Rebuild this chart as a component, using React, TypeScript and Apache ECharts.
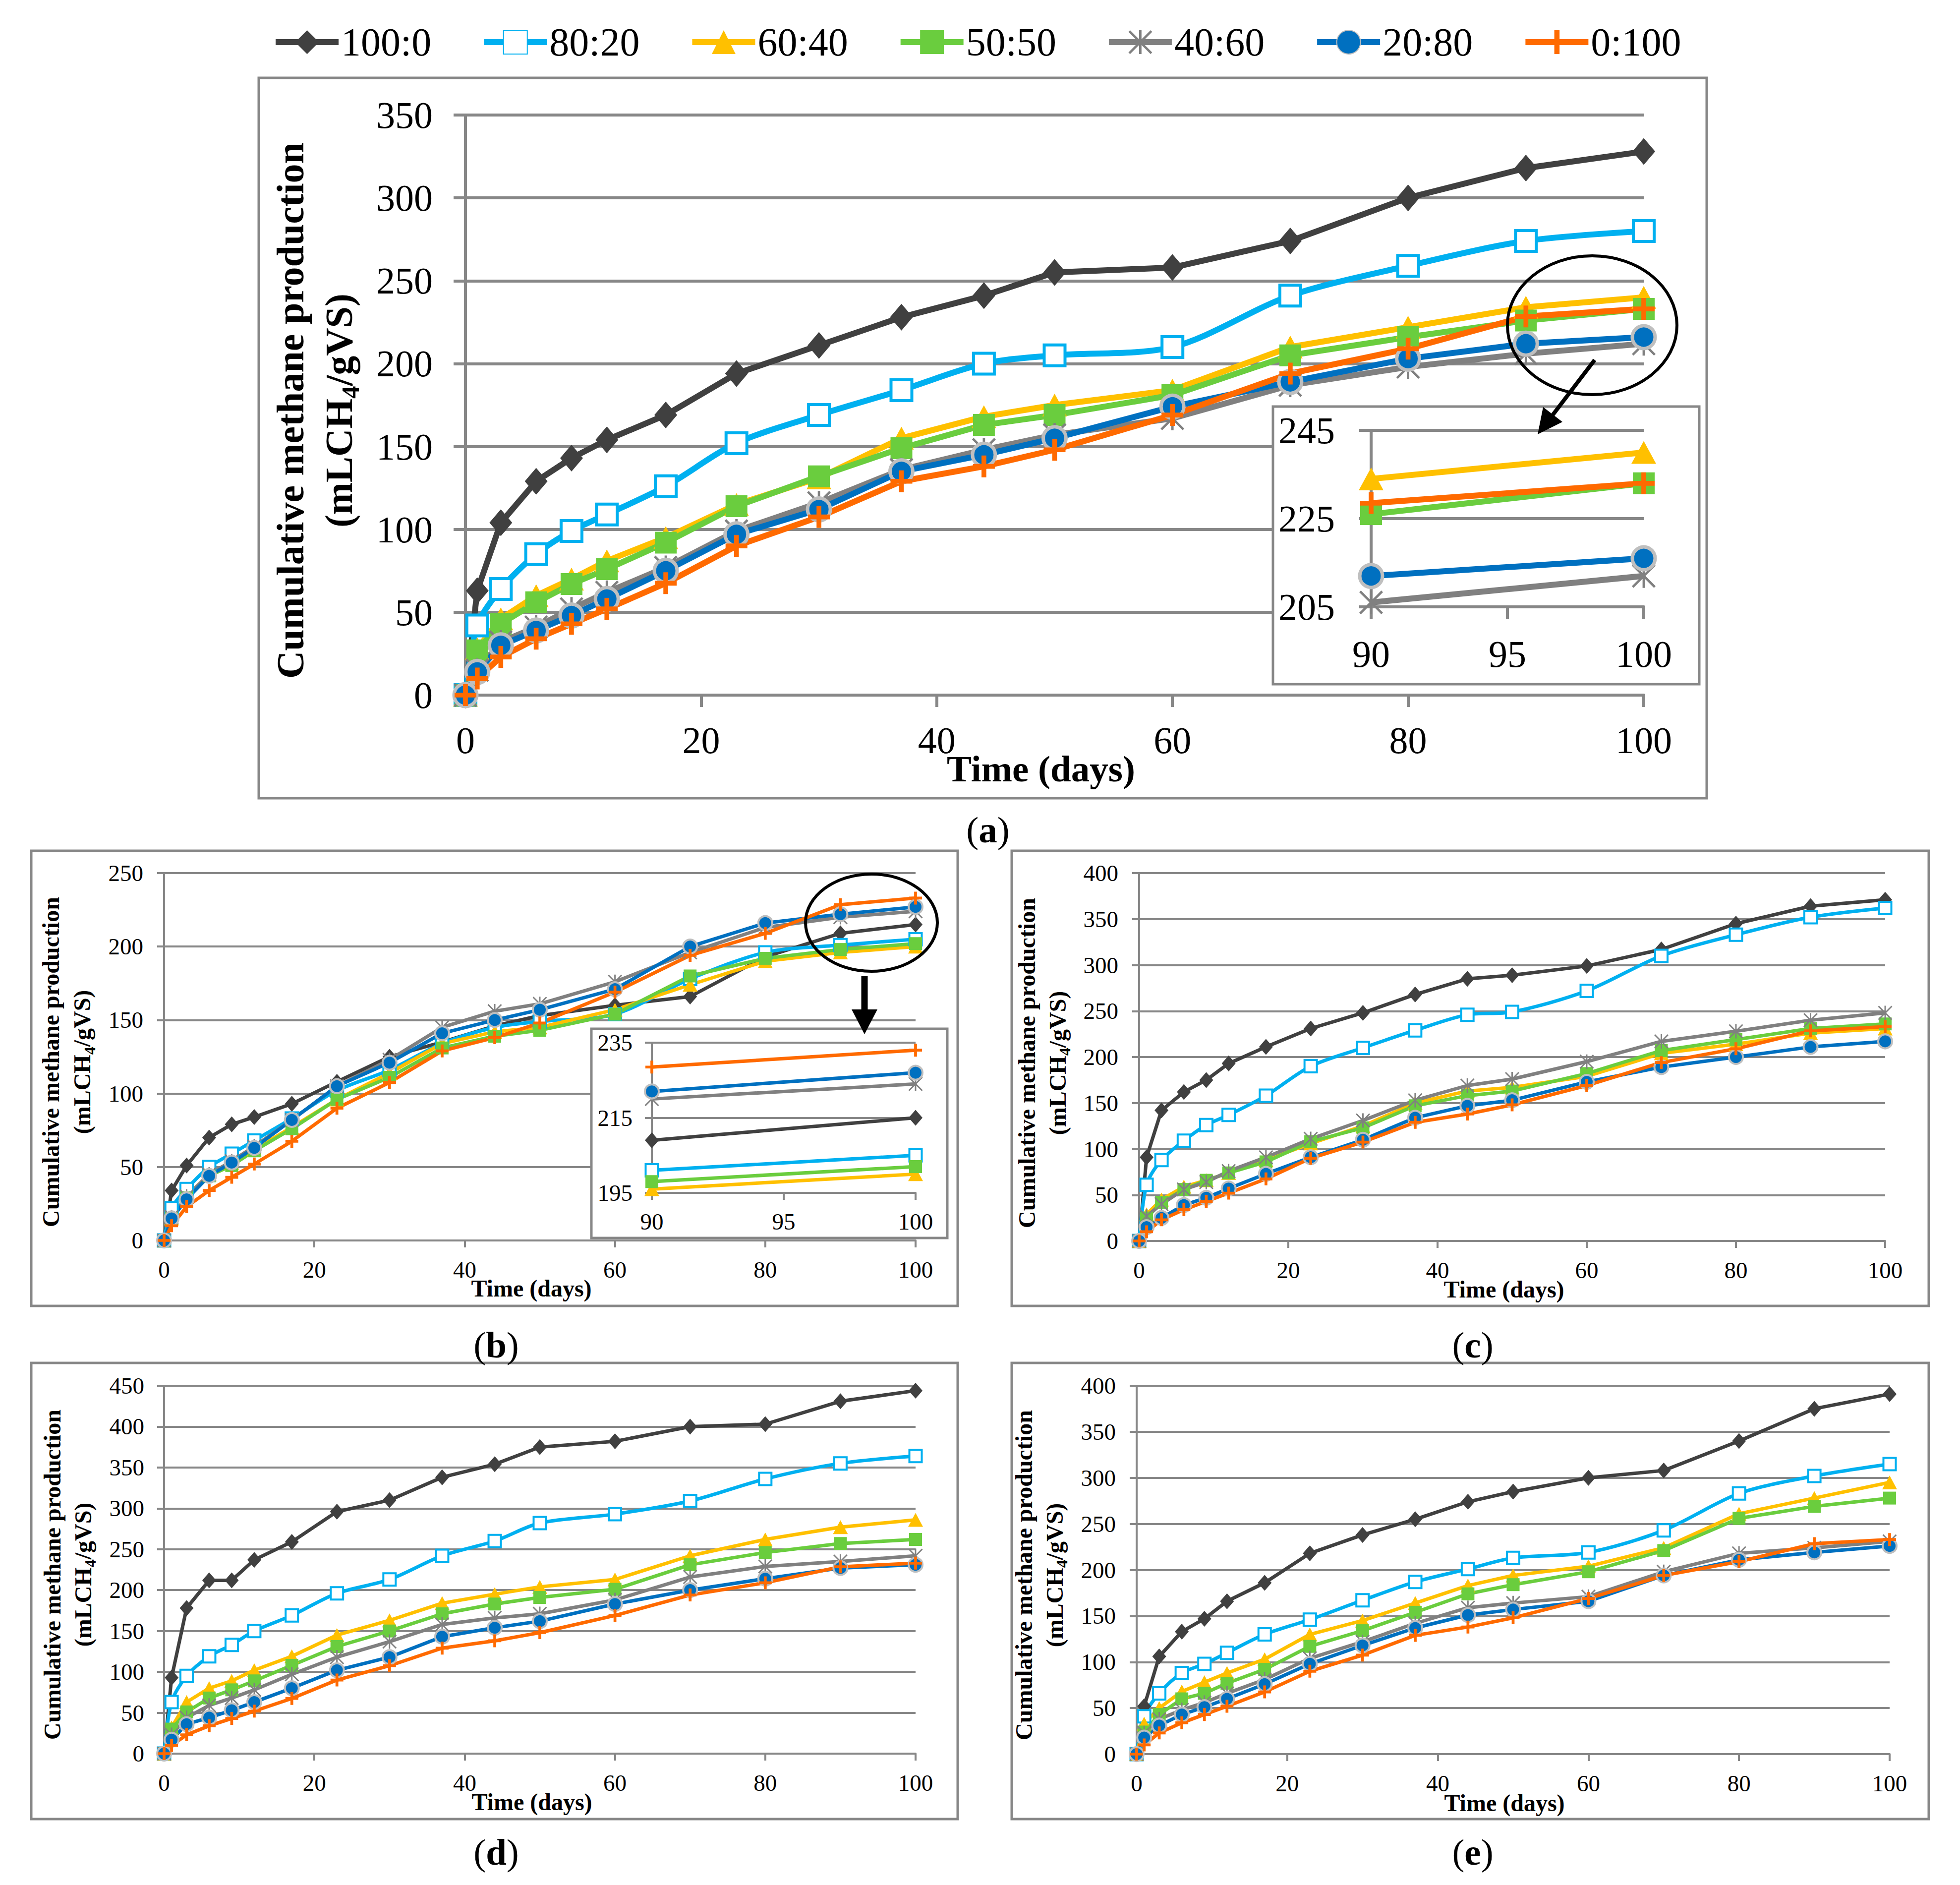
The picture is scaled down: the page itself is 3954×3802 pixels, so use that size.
import React, { useEffect, useRef } from "react";
import * as echarts from "echarts";

// sampling days, shared by every panel
const days = [0, 1, 3, 6, 9, 12, 17, 23, 30, 37, 44, 50, 60, 70, 80, 90, 100];
const ratios = ["100:0", "80:20", "60:40", "50:50", "40:60", "20:80", "0:100"];

// 0:100 is the same mix in all five panels
const r0_100 = [0, 10, 23, 34, 43, 52, 67.5, 90, 107.5, 129, 138, 148, 169, 194, 209, 228.5, 233];

// (a)
const a100_0 = [0, 63, 104, 129, 143, 154, 169, 194, 211, 228, 241, 255, 258, 274, 300, 318, 328];
const a80_20 = [0, 42, 64, 85, 99, 109, 126, 152, 169, 184, 200, 205, 210, 241, 259, 274, 280];
const a60_40 = [0, 28, 46, 60, 70, 81, 95, 115, 131, 155, 168, 175, 184, 210, 222, 234, 240];
const a50_50 = [0, 27, 43, 56, 67, 76, 92, 114, 132, 149, 163, 169, 181, 205, 216, 226, 233];
const a40_60 = [0, 15, 32, 41, 52, 62, 77, 99, 116, 136, 148, 157, 167, 187, 198, 206, 212];
const a20_80 = [0, 14, 30, 39, 48, 58, 75, 97, 112, 135, 145, 155, 174, 189, 203, 212, 216];

// (b)
const b100_0 = [0, 34, 51, 70, 79, 84, 93, 108, 125, 135, 146, 153, 160, 166, 193, 209, 215];
const b80_20 = [0, 22, 35, 50, 59, 68, 83, 102, 116, 134, 145, 149, 154, 178, 196, 201, 205];
const b60_40 = [0, 15, 30, 45, 53, 62, 77, 96, 114, 134, 142, 145, 157, 174, 190, 196, 200];
const b50_50 = [0, 15, 29, 44, 51, 61, 76, 96, 111, 131, 139, 143, 154, 180, 192, 198, 202];
const b40_60 = [0, 16, 30, 45, 54, 64, 82, 105, 123, 145, 156, 161, 176, 196, 213, 220, 224];
const b20_80 = [0, 15, 28, 44, 53, 63, 82, 105, 121, 141, 150, 157, 171, 200, 216, 222, 227];

// (c)
const c100_0 = [0, 91, 142, 162, 175, 193, 211, 231, 248, 268, 285, 289, 299, 317, 345, 364, 371];
const c80_20 = [0, 61, 88, 109, 126, 137, 158, 190, 210, 229, 246, 249, 272, 310, 333, 352, 362];
const c60_40 = [0, 29, 45, 59, 66, 74, 88, 106, 125, 150, 163, 167, 179, 204, 214, 226, 231];
const c50_50 = [0, 25, 42, 56, 66, 74, 86, 108, 123, 147, 158, 163, 182, 207, 219, 231, 236];
const c40_60 = [0, 27, 40, 56, 64, 76, 91, 111, 131, 153, 169, 176, 195, 217, 228, 240, 248];
const c20_80 = [0, 15, 25, 39, 47, 57, 73, 91, 110, 134, 147, 153, 173, 189, 200, 211, 217];

// (d)
const d100_0 = [0, 93, 178, 212, 212, 237, 259, 296, 310, 338, 354, 375, 382, 400, 403, 431, 444];
const d80_20 = [0, 63, 95, 119, 133, 150, 169, 196, 213, 242, 260, 282, 293, 309, 336, 355, 364];
const d60_40 = [0, 32, 63, 80, 89, 102, 119, 145, 163, 184, 195, 204, 213, 242, 262, 277, 286];
const d50_50 = [0, 30, 51, 68, 78, 89, 108, 131, 150, 171, 183, 191, 201, 231, 246, 257, 262];
const d40_60 = [0, 23, 44, 59, 68, 78, 97, 118, 137, 158, 166, 171, 188, 216, 229, 235, 242];
const d20_80 = [0, 17, 36, 44, 53, 63, 80, 102, 118, 143, 154, 162, 183, 200, 214, 227, 231];

// (e)
const e100_0 = [0, 52, 106, 133, 147, 166, 186, 218, 238, 255, 274, 285, 300, 308, 340, 375, 391];
const e80_20 = [0, 41, 66, 88, 98, 110, 130, 146, 167, 187, 201, 213, 219, 243, 283, 302, 315];
const e60_40 = [0, 33, 50, 68, 78, 88, 103, 130, 145, 164, 183, 194, 204, 224, 261, 278, 295];
const e50_50 = [0, 24, 43, 60, 66, 77, 92, 117, 134, 154, 174, 184, 198, 221, 256, 269, 278];
const e40_60 = [0, 23, 38, 48, 56, 66, 81, 104, 122, 142, 159, 164, 171, 198, 218, 224, 231];
const e20_80 = [0, 18, 31, 43, 51, 60, 76, 98, 118, 137, 151, 157, 166, 194, 211, 219, 226];

const panelA = [a100_0, a80_20, a60_40, a50_50, a40_60, a20_80, r0_100];
const panelB = [b100_0, b80_20, b60_40, b50_50, b40_60, b20_80, r0_100];
const panelC = [c100_0, c80_20, c60_40, c50_50, c40_60, c20_80, r0_100];
const panelD = [d100_0, d80_20, d60_40, d50_50, d40_60, d20_80, r0_100];
const panelE = [e100_0, e80_20, e60_40, e50_50, e40_60, e20_80, r0_100];

// axis ranges: main panels a-e, then the two zoom insets
const yMaxes = [350, 250, 400, 450, 400];
const insetAY = [205, 245];
const insetBY = [195, 235];
const insetX = [90, 100];

const FONT = "Liberation Serif";
const GRAY = "#878787";
const COLORS = ["#404040", "#00B0F0", "#FFC000", "#6ACD3E", "#808080", "#0070C0", "#FF6A00"];
const ASTERISK =
  "path://M45 0L55 0L55 100L45 100Z M0 7L7 0L100 93L93 100Z M93 0L100 7L7 100L0 93Z";
const PLUS = "path://M39 0L61 0L61 39L100 39L100 61L61 61L61 100L39 100L39 61L0 61L0 39L39 39Z";
const SYMBOLS = ["diamond", "rect", "triangle", "rect", ASTERISK, "circle", PLUS];
const SIZES = [[46, 54], [42, 42], [50, 46], [44, 44], [48, 48], [46, 46], [44, 44]];

// plot areas in page pixels: a, b, c, d, e, inset a, inset b
const PLOTS = [
  { l: 939, t: 232, r: 3316, b: 1402 },
  { l: 331, t: 1761, r: 1847, b: 2502 },
  { l: 2298, t: 1761, r: 3803, b: 2503 },
  { l: 331, t: 2795, r: 1847, b: 3537 },
  { l: 2293, t: 2795, r: 3812, b: 3538 },
  { l: 2766, t: 868, r: 3316, b: 1224 },
  { l: 1315, t: 2103, r: 1847, b: 2406 },
];
const Y_MARGIN = [66, 42, 42, 40, 42, 73, 39];
const X_MARGIN = [53, 35, 35, 35, 35, 57, 34];

function seriesStyle(i: number, big: boolean) {
  const k = big ? 1 : 0.6;
  const size = SIZES[i].map((s) => Math.round(s * k));
  let itemStyle: any = { color: COLORS[i] };
  if (i === 1) itemStyle = { color: "#fff", borderColor: COLORS[i], borderWidth: big ? 6 : 4 };
  if (i === 5) itemStyle = { color: COLORS[i], borderColor: "#BFBFBF", borderWidth: big ? 7 : 4 };
  return {
    symbol: SYMBOLS[i],
    symbolSize: size,
    smooth: i === 1 ? 0.3 : false,
    lineStyle: { color: COLORS[i], width: big ? 12 : 7 },
    itemStyle,
  };
}

function yTitle(cx: number, cy: number, size: number, lh: number) {
  return {
    type: "text",
    x: cx,
    y: cy,
    rotation: Math.PI / 2,
    z: 3,
    style: {
      text: "{t|Cumulative methane production}\n{t|(mLCH}{s|4}{t|/gVS)}",
      align: "center",
      verticalAlign: "middle",
      rich: {
        t: { fontFamily: FONT, fontSize: size, fontWeight: "bold", lineHeight: lh, fill: "#000" },
        s: {
          fontFamily: FONT,
          fontSize: Math.round(size * 0.66),
          fontWeight: "bold",
          lineHeight: Math.round(lh * 0.62),
          verticalAlign: "bottom",
          fill: "#000",
        },
      },
    },
  };
}

function plainText(text: string, x: number, y: number, size: number, bold: boolean) {
  return {
    type: "text",
    x,
    y,
    z: 3,
    style: {
      text,
      fontFamily: FONT,
      fontSize: size,
      fontWeight: bold ? "bold" : "normal",
      fill: "#000",
      align: "center",
      verticalAlign: "middle",
    },
  };
}

function panelLabel(letter: string, x: number, y: number) {
  return {
    type: "text",
    x,
    y,
    z: 3,
    style: {
      text: "({b|" + letter + "})",
      fontFamily: FONT,
      fontSize: 75,
      fill: "#000",
      align: "center",
      verticalAlign: "middle",
      rich: { b: { fontFamily: FONT, fontSize: 75, fontWeight: "bold", fill: "#000" } },
    },
  };
}

function frame(l: number, t: number, r: number, b: number, fill: string, z: number) {
  return {
    type: "rect",
    z,
    shape: { x: l, y: t, width: r - l, height: b - t },
    style: { fill, stroke: GRAY, lineWidth: 5 },
  };
}

export default function App() {
  const chartRef = useRef<HTMLDivElement>(null);

  useEffect(() => {
    if (!chartRef.current) return;
    const chart = echarts.init(chartRef.current, undefined, { renderer: "svg" });

    const grids = PLOTS.map((p) => ({
      left: p.l,
      top: p.t,
      width: p.r - p.l,
      height: p.b - p.t,
      containLabel: false,
    }));

    const axisCommon = (idx: number) => {
      const big = idx === 0 || idx === 5;
      const inset = idx >= 5;
      return {
        z: inset ? 6 : 0,
        axisLine: { show: true, lineStyle: { color: GRAY, width: big ? 6 : 4 } },
        axisTick: { show: true, length: big ? 24 : 14, lineStyle: { color: GRAY, width: big ? 6 : 4 } },
        axisLabel: { fontFamily: FONT, fontSize: big ? 76 : 47, color: "#000" },
      };
    };

    const xAxes = PLOTS.map((_, idx) => {
      const c = axisCommon(idx);
      const inset = idx >= 5;
      return {
        ...c,
        gridIndex: idx,
        type: "value",
        min: inset ? insetX[0] : 0,
        max: inset ? insetX[1] : 100,
        interval: inset ? 5 : 20,
        splitLine: { show: false },
        axisLabel: { ...c.axisLabel, margin: X_MARGIN[idx] },
      };
    });

    const yAxes = PLOTS.map((_, idx) => {
      const c = axisCommon(idx);
      const big = idx === 0 || idx === 5;
      let min = 0;
      let max = yMaxes[idx];
      let interval = 50;
      if (idx === 5) [min, max, interval] = [insetAY[0], insetAY[1], 20];
      if (idx === 6) [min, max, interval] = [insetBY[0], insetBY[1], 20];
      return {
        ...c,
        gridIndex: idx,
        type: "value",
        min,
        max,
        interval,
        splitLine: { show: true, lineStyle: { color: GRAY, width: big ? 6 : 4 } },
        axisLabel: { ...c.axisLabel, margin: Y_MARGIN[idx] },
      };
    });

    const panels = [panelA, panelB, panelC, panelD, panelE];
    const series: any[] = [];
    panels.forEach((set, p) => {
      set.forEach((vals, i) => {
        series.push({
          type: "line",
          name: ratios[i],
          xAxisIndex: p,
          yAxisIndex: p,
          data: days.map((d, k) => [d, vals[k]]),
          z: 2,
          ...seriesStyle(i, p === 0),
        });
      });
    });
    // zoom insets for (a) and (b): last two sampling days
    [[panelA, 5], [panelB, 6]].forEach(([set, g]: any) => {
      set.forEach((vals: number[], i: number) => {
        series.push({
          type: "line",
          name: ratios[i],
          xAxisIndex: g,
          yAxisIndex: g,
          clip: true,
          data: days
            .map((d, k) => [d, vals[k]])
            .filter(([d]) => d >= insetX[0]),
          z: 8,
          ...seriesStyle(i, g === 5),
        });
      });
    });

    const graphics: any[] = [
      // panel frames
      frame(522, 157, 3443, 1610, "none", 1),
      frame(63, 1716, 1932, 2634, "none", 1),
      frame(2041, 1716, 3891, 2634, "none", 1),
      frame(63, 2749, 1932, 3669, "none", 1),
      frame(2041, 2749, 3891, 3669, "none", 1),
      // inset frames sit above the main lines
      frame(2568, 820, 3428, 1380, "#fff", 5),
      frame(1193, 2075, 1911, 2497, "#fff", 5),
      // callout ellipses + arrows
      {
        type: "ellipse",
        z: 10,
        shape: { cx: 3212, cy: 656, rx: 171, ry: 140 },
        style: { fill: "none", stroke: "#000", lineWidth: 6 },
      },
      {
        type: "line",
        z: 10,
        shape: { x1: 3217, y1: 726, x2: 3130, y2: 840 },
        style: { stroke: "#000", lineWidth: 8 },
      },
      {
        type: "polygon",
        z: 10,
        shape: { points: [[3102, 876], [3152, 851], [3113, 821]] },
        style: { fill: "#000" },
      },
      {
        type: "ellipse",
        z: 10,
        shape: { cx: 1758, cy: 1861, rx: 133, ry: 98 },
        style: { fill: "none", stroke: "#000", lineWidth: 6 },
      },
      {
        type: "line",
        z: 10,
        shape: { x1: 1744, y1: 1969, x2: 1744, y2: 2042 },
        style: { stroke: "#000", lineWidth: 13 },
      },
      {
        type: "polygon",
        z: 10,
        shape: { points: [[1718, 2036], [1770, 2036], [1744, 2086]] },
        style: { fill: "#000" },
      },
      // axis titles
      yTitle(634, 828, 78, 98),
      yTitle(134, 2142, 48, 63),
      yTitle(2102, 2144, 48, 62),
      yTitle(136, 3176, 48, 62),
      yTitle(2096, 3177, 48, 62),
      plainText("Time (days)", 2100, 1550, 75, true),
      plainText("Time (days)", 1072, 2598, 48, true),
      plainText("Time (days)", 3034, 2600, 48, true),
      plainText("Time (days)", 1073, 3634, 48, true),
      plainText("Time (days)", 3035, 3636, 48, true),
      panelLabel("a", 1993, 1673),
      panelLabel("b", 1001, 2712),
      panelLabel("c", 2971, 2712),
      panelLabel("d", 1001, 3735),
      panelLabel("e", 2971, 3735),
    ];

    chart.setOption({
      animation: false,
      backgroundColor: "#fff",
      textStyle: { fontFamily: FONT },
      legend: {
        data: ratios,
        left: 545,
        top: 40,
        itemWidth: 127,
        itemHeight: 60,
        itemGap: 100,
        selectedMode: false,
        lineStyle: { width: 12 },
        textStyle: { fontFamily: FONT, fontSize: 80, color: "#000" },
      },
      grid: grids,
      xAxis: xAxes,
      yAxis: yAxes,
      series,
      graphic: { elements: graphics },
    });

    return () => {
      chart.dispose();
    };
  }, []);

  return (
    <div
      ref={chartRef}
      style={{ position: "absolute", left: 0, top: 0, width: 3954, height: 3802, background: "#fff" }}
    />
  );
}
